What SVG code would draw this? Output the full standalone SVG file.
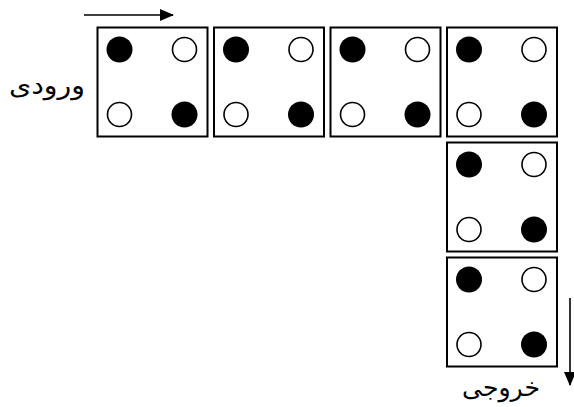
<svg xmlns="http://www.w3.org/2000/svg" width="574" height="407" viewBox="0 0 574 407">
<style>
.box{fill:#fff;stroke:#000;stroke-width:2}
.on{fill:#000}
.off{fill:#fff;stroke:#000;stroke-width:1.6}
.lbl{font-family:"DejaVu Sans","Liberation Sans",sans-serif;font-size:25px;fill:#000}
.conn{stroke:#000;stroke-width:1.6;fill:none}
</style>
<defs>
<g id="cell">
<rect class="box" x="0" y="0" width="110" height="109"/>
<circle class="on" cx="22" cy="22" r="13"/>
<circle class="off" cx="87" cy="22" r="12"/>
<circle class="off" cx="22" cy="87" r="12"/>
<circle class="on" cx="87" cy="87" r="13"/>
</g>
<marker id="ah" markerWidth="14" markerHeight="12" refX="13" refY="6" orient="auto" markerUnits="userSpaceOnUse">
<path d="M0,0 L14,6 L0,12 Z" fill="#000"/>
</marker>
</defs>
<g id="n1"><use href="#cell" x="97.5" y="27.5"/></g>
<g id="n2"><use href="#cell" x="214" y="27.5"/></g>
<g id="n3"><use href="#cell" x="330.5" y="27.5"/></g>
<g id="n4"><use href="#cell" x="447" y="27.5"/></g>
<g id="n5"><use href="#cell" x="447" y="142.5"/></g>
<g id="n6"><use href="#cell" x="447" y="257.5"/></g>
<g id="connectors">
<line class="conn" x1="84" y1="15" x2="173" y2="15" marker-end="url(#ah)"/>
<line class="conn" x1="570" y1="298" x2="570" y2="385" marker-end="url(#ah)"/>
</g>
<g id="labels">
<text class="lbl" x="9" y="94" textLength="76" lengthAdjust="spacingAndGlyphs">ورودی</text>
<text class="lbl" x="462" y="396" textLength="78" lengthAdjust="spacingAndGlyphs">خروجی</text>
</g>
</svg>
